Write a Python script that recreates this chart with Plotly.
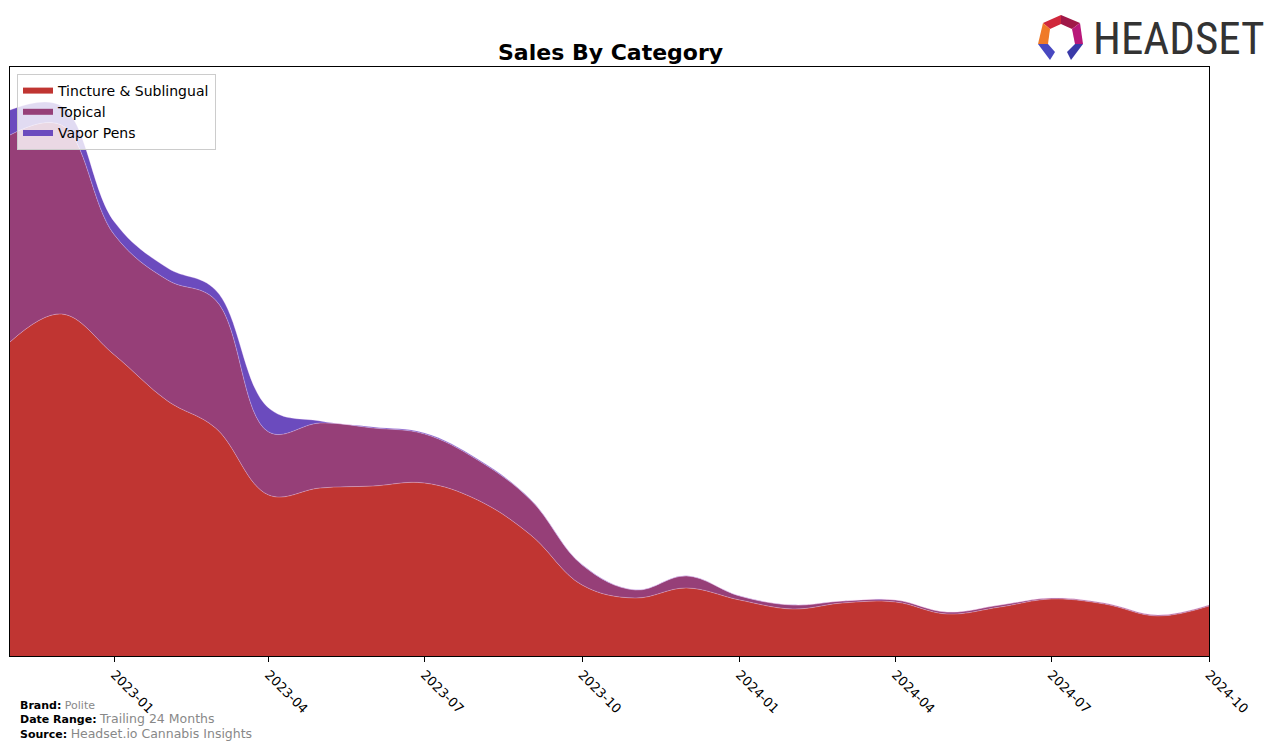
import plotly.graph_objects as go

months = ["2022-11-01", "2022-12-01", "2023-01-01", "2023-02-01", "2023-03-01", "2023-04-01",
          "2023-05-01", "2023-06-01", "2023-07-01", "2023-08-01", "2023-09-01", "2023-10-01",
          "2023-11-01", "2023-12-01", "2024-01-01", "2024-02-01", "2024-03-01", "2024-04-01",
          "2024-05-01", "2024-06-01", "2024-07-01", "2024-08-01", "2024-09-01", "2024-10-01"]

tincture = [314, 342, 301, 255, 228, 161, 168, 170, 173, 156, 121, 71,
            58, 68, 56, 47, 53, 54, 42, 49, 57, 52, 40, 50]
topical = [207, 189, 120, 121, 128, 63, 65, 58, 49, 40, 35, 20,
           8, 12, 4, 4, 2, 2, 2, 2, 1, 1, 1, 1]
vapor = [25, 19, 13, 12, 10, 24, 2, 1, 1, 1, 0.5, 0.5,
         0.3, 0.3, 0.2, 0.2, 0, 0, 0, 0, 0, 0, 0, 0]

series = [("Tincture & Sublingual", tincture, "#C03532"),
          ("Topical", topical, "#963F78"),
          ("Vapor Pens", vapor, "#6B4BBE")]

fig = go.Figure()
for name, vals, col in series:
    fig.add_trace(go.Scatter(
        x=months, y=vals, name=name, mode="none", stackgroup="fills",
        line=dict(shape="spline", smoothing=1.1, width=0),
        fillcolor=col,
    ))
# thin light edges along each boundary, same stacking
for name, vals, col in series:
    fig.add_trace(go.Scatter(
        x=months, y=vals, name=name, mode="lines", stackgroup="edges", fill="none",
        line=dict(shape="spline", smoothing=1.1, width=0.6, color="rgba(255,225,255,0.5)"),
        showlegend=False, hoverinfo="skip",
    ))

# plot area in pixels: left 10, right 1209, top 67, bottom 656
L, R, T, B = 10, 1209, 67, 656
W, H = 1276, 747

def px(x, y):
    return (x - L) / (R - L), (B - y) / (B - T)

def poly(points, color):
    pts = [px(x, y) for x, y in points]
    d = "M " + " L ".join(f"{a:.5f},{b:.5f}" for a, b in pts) + " Z"
    return dict(type="path", path=d, xref="paper", yref="paper",
                fillcolor=color, line=dict(width=0), layer="above")

shapes = [
    poly([(1043, 23), (1061, 15), (1061, 24), (1050, 29)], "#D0283C"),
    poly([(1061, 15), (1080, 23), (1072, 29), (1061, 24)], "#A01848"),
    poly([(1080, 23), (1083, 44), (1075, 44), (1072, 29)], "#B8187A"),
    poly([(1043, 23), (1050, 29), (1048, 44), (1038, 44)], "#F07A28"),
    poly([(1038, 44), (1048, 44), (1055, 52), (1050, 60)], "#4848C0"),
    poly([(1075, 44), (1083, 44), (1071, 60), (1067, 52)], "#3A3AA8"),
]

footer = ("<b>Brand:</b> <span style='color:#888888'>Polite</span><br>"
          "<b>Date Range:</b> <span style='color:#888888;font-size:12.5px'>Trailing 24 Months</span><br>"
          "<b>Source:</b> <span style='color:#888888;font-size:12.5px'>Headset.io Cannabis Insights</span>")

annotations = [
    dict(text="<b>Sales By Category</b>", x=px(610, 52)[0], y=px(610, 52)[1],
         xref="paper", yref="paper", showarrow=False, xanchor="center", yanchor="middle",
         font=dict(size=22, family="DejaVu Sans", color="black")),
    dict(text="HEADSET", x=px(1091, 38)[0], y=px(1091, 38)[1], xref="paper", yref="paper",
         showarrow=False, xanchor="left", yanchor="middle",
         font=dict(size=45, family="Liberation Sans Narrow, Roboto Condensed, Roboto", color="#333333")),
    dict(text=footer, x=px(18, 720)[0], y=px(18, 720)[1], xref="paper", yref="paper",
         showarrow=False, xanchor="left", yanchor="middle", align="left",
         font=dict(size=11, family="DejaVu Sans", color="black")),
]

fig.update_layout(
    width=W, height=H,
    margin=dict(l=L, r=W - R, t=T, b=H - B),
    paper_bgcolor="white", plot_bgcolor="white",
    font=dict(family="DejaVu Sans", size=13, color="black"),
    showlegend=True,
    legend=dict(x=px(17, 74)[0], y=px(17, 74)[1], xanchor="left", yanchor="top",
                bgcolor="rgba(255,255,255,0.8)", bordercolor="#CCCCCC", borderwidth=1,
                font=dict(size=14, family="DejaVu Sans"), traceorder="normal",
                tracegroupgap=0),
    xaxis=dict(range=["2022-11-01", "2024-10-01"], type="date",
               tick0="2023-01-01", dtick="M3", tickformat="%Y-%m", tickangle=45,
               ticks="outside", ticklen=5, tickcolor="black",
               showline=True, linecolor="black", linewidth=1, mirror=True,
               showgrid=False, zeroline=False, tickfont=dict(size=13)),
    yaxis=dict(range=[0, 589], showticklabels=False, ticks="",
               showline=True, linecolor="black", linewidth=1, mirror=True,
               showgrid=False, zeroline=False),
    shapes=shapes,
    annotations=annotations,
)

fig.write_html("out.html", config={"displayModeBar": False},
               post_script="document.body.style.margin='0px';")
